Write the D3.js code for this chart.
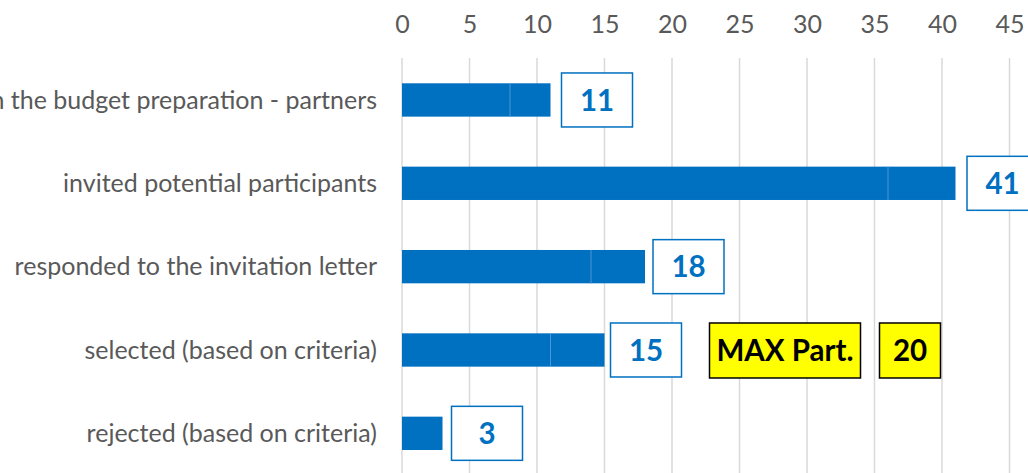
<!DOCTYPE html>
<html>
<head>
<meta charset="utf-8">
<script src="https://cdn.jsdelivr.net/npm/d3@7/dist/d3.min.js"></script>
<style>
  html, body { margin: 0; padding: 0; background: #fff; }
  svg { display: block; }
</style>
</head>
<body>
<svg id="chart" width="1028" height="473"></svg>
<script>
const categories = [
  "involved in the budget preparation - partners",
  "invited potential participants",
  "responded to the invitation letter",
  "selected (based on criteria)",
  "rejected (based on criteria)"
];
const seriesA = [8, 36, 14, 11, 3];
const seriesB = [3, 5, 4, 4, 0];
const totals = [11, 41, 18, 15, 3];
const tickValues = [0, 5, 10, 15, 20, 25, 30, 35, 40, 45];
const maxLabel = "MAX Part.";
const maxValue = 20;
const maxRow = "selected (based on criteria)";

// layout (pixel gaps between bar end and its label box)
const labelGap = [11, 11.5, 8, 6, 9];

const svg = d3.select("#chart");
const FONT = "Lato, 'Open Sans', sans-serif";
const BLUE = "#0070C0";

const x = d3.scaleLinear().domain([0, 45]).range([402, 1009.5]);
const y = d3.scaleBand().domain(categories).range([58.3, 475]).paddingInner(0.6).paddingOuter(0.3);

// gridlines
svg.append("g").selectAll("line").data(tickValues).join("line")
  .attr("x1", d => x(d)).attr("x2", d => x(d))
  .attr("y1", 58).attr("y2", 473)
  .attr("stroke", "#d9d9d9").attr("stroke-width", 1.5);

// top axis
const axis = d3.axisTop(x).tickValues(tickValues).tickSize(0).tickPadding(0);
const gAxis = svg.append("g").attr("transform", "translate(0,33)").call(axis);
gAxis.select(".domain").remove();
gAxis.selectAll("text")
  .attr("font-family", FONT).attr("font-size", 25).attr("fill", "#595959").attr("dy", 0);

// category labels
svg.append("g").selectAll("text").data(categories).join("text")
  .attr("x", 377).attr("y", d => y(d) + y.bandwidth() / 2)
  .attr("dy", "0.35em").attr("text-anchor", "end")
  .attr("font-family", FONT).attr("font-size", 25).attr("fill", "#595959")
  .text(d => d);

const rows = categories.map((c, i) => ({ c, a: seriesA[i], b: seriesB[i], t: totals[i], g: labelGap[i] }));

// bars
const gBars = svg.append("g");
gBars.selectAll("rect.a").data(rows).join("rect").attr("class", "a")
  .attr("x", x(0)).attr("y", d => y(d.c))
  .attr("width", d => x(d.a) - x(0)).attr("height", y.bandwidth())
  .attr("fill", BLUE);
gBars.selectAll("rect.b").data(rows.filter(d => d.b > 0)).join("rect").attr("class", "b")
  .attr("x", d => x(d.a)).attr("y", d => y(d.c))
  .attr("width", d => x(d.a + d.b) - x(d.a)).attr("height", y.bandwidth())
  .attr("fill", BLUE);
gBars.selectAll("line.sep").data(rows.filter(d => d.b > 0)).join("line").attr("class", "sep")
  .attr("x1", d => x(d.a)).attr("x2", d => x(d.a))
  .attr("y1", d => y(d.c)).attr("y2", d => y(d.c) + y.bandwidth())
  .attr("stroke", "#4d95d4").attr("stroke-width", 1);

// value label boxes
const BW = 71, BH = 54;
const gLab = svg.append("g");
const lab = gLab.selectAll("g").data(rows).join("g")
  .attr("transform", d => `translate(${x(d.t) + d.g},${y(d.c) + y.bandwidth() / 2 - BH / 2})`);
lab.append("rect").attr("width", BW).attr("height", BH)
  .attr("fill", "#fff").attr("stroke", BLUE).attr("stroke-width", 1.5);
lab.append("text").attr("x", BW / 2).attr("y", BH / 2).attr("dy", "0.36em")
  .attr("text-anchor", "middle").attr("font-family", FONT).attr("font-weight", "bold")
  .attr("font-size", 29.5).attr("fill", BLUE).text(d => d.t);

// MAX annotation
const mr = rows.find(d => d.c === maxRow);
const my = y(maxRow) + y.bandwidth() / 2 - BH / 2;
const mx = x(mr.t) + mr.g + BW + 28;
const ann = [
  { text: maxLabel, x: mx, w: 151 },
  { text: String(maxValue), x: mx + 170, w: 61 }
];
const gAnn = svg.append("g").selectAll("g").data(ann).join("g")
  .attr("transform", d => `translate(${d.x},${my})`);
gAnn.append("rect").attr("width", d => d.w).attr("height", BH + 1)
  .attr("fill", "#FFFF00").attr("stroke", "#000").attr("stroke-width", 1.5);
gAnn.append("text").attr("x", d => d.w / 2).attr("y", BH / 2).attr("dy", "0.36em")
  .attr("text-anchor", "middle").attr("font-family", FONT).attr("font-weight", "bold")
  .attr("font-size", 29.5).attr("fill", "#000").text(d => d.text);
</script>
</body>
</html>
